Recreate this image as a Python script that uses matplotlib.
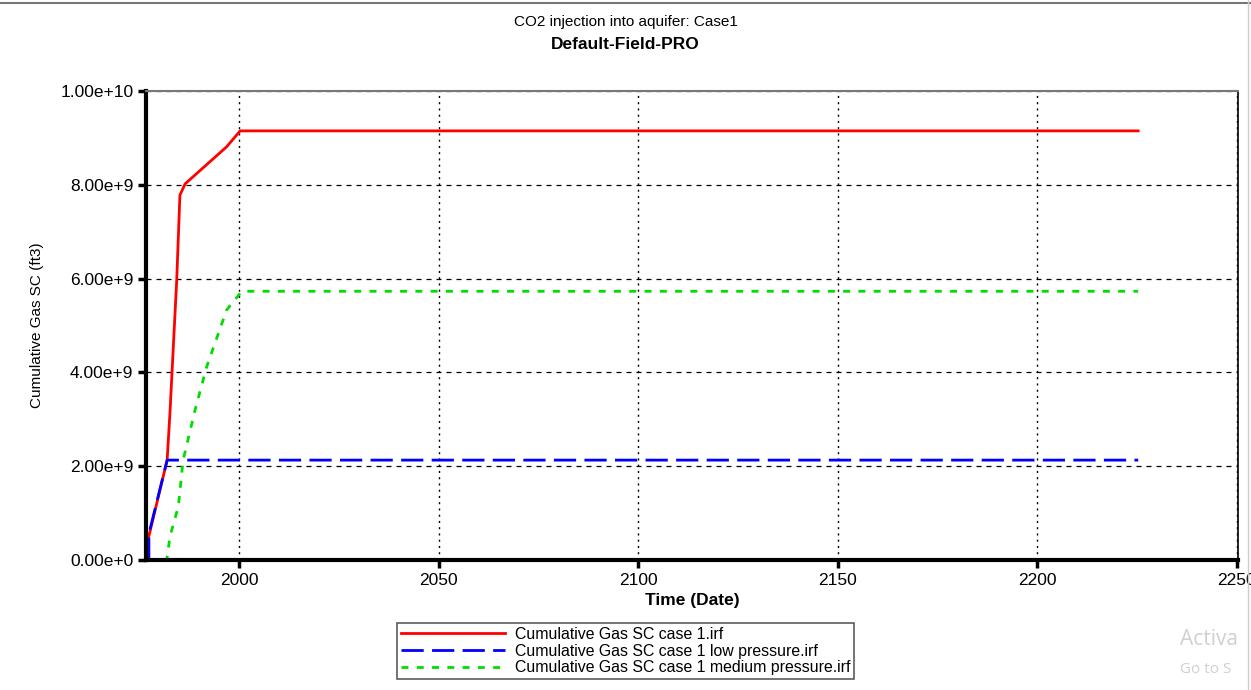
import numpy as np
import matplotlib.pyplot as plt
from matplotlib.ticker import FixedLocator, FixedFormatter

# values (year, cumulative gas in ft3)
red_years = [1977.4, 1977.4, 1982.0, 1982.7, 1984.4, 1985.2, 1986.5, 1991.5, 1996.9, 2000.3, 2225.3]
red_vals = [0.0, 0.5e9, 2.13e9, 3.13e9, 5.97e9, 7.78e9, 8.02e9, 8.40e9, 8.81e9, 9.15e9, 9.15e9]

blue_years = [1977.4, 1977.4, 1982.0, 2225.3]
blue_vals = [0.0, 0.55e9, 2.13e9, 2.13e9]

green_years = [1977.4, 1981.9, 1982.7, 1984.8, 1986.0, 1989.0, 1991.9, 1996.9, 2000.7, 2225.3]
green_vals = [0.0, 0.0, 0.5e9, 1.14e9, 2.13e9, 3.2e9, 4.12e9, 5.33e9, 5.73e9, 5.73e9]

labels = ['Cumulative Gas SC case 1.irf',
          'Cumulative Gas SC case 1 low pressure.irf',
          'Cumulative Gas SC case 1 medium pressure.irf']

x_ticks = [2000, 2050, 2100, 2150, 2200, 2250]
y_ticks = [0, 2e9, 4e9, 6e9, 8e9, 1e10]
y_tick_labels = ['0.00e+0', '2.00e+9', '4.00e+9', '6.00e+9', '8.00e+9', '1.00e+10']

sans = ['Liberation Sans', 'DejaVu Sans']

fig = plt.figure(figsize=(12.51, 6.9), dpi=100)
ax = fig.add_axes([0.1167, 0.1884, 0.8729, 0.6797])

ax.plot(red_years, red_vals, color='#ff0000', lw=2, label=labels[0])
ax.plot(blue_years, blue_vals, color='#0000ff', lw=2, dashes=(8, 3), label=labels[1])
ax.plot(green_years, green_vals, color='#00dd00', lw=2, dashes=(2.5, 3), label=labels[2])

ax.set_xlim(1976.7, 2250.3)
ax.set_ylim(0, 1e10)

ax.xaxis.set_major_locator(FixedLocator(x_ticks))
ax.yaxis.set_major_locator(FixedLocator(y_ticks))
ax.yaxis.set_major_formatter(FixedFormatter(y_tick_labels))

for t in ax.get_xticklabels() + ax.get_yticklabels():
    t.set_family(sans)
    t.set_fontsize(12.5)
ax.tick_params(direction='out', length=6, width=2.5, color='black', pad=3)

# grid: dotted verticals, dashed horizontals
ax.xaxis.grid(True, color='black', lw=1, linestyle=(0, (1.5, 3)))
ax.yaxis.grid(True, color='black', lw=0.9, linestyle=(0, (4, 4)))

ax.spines['left'].set_linewidth(3)
ax.spines['bottom'].set_linewidth(3)
ax.spines['top'].set_color('#777777')
ax.spines['top'].set_linewidth(1.5)
ax.spines['right'].set_linewidth(1.2)

ax.set_xlabel('Time (Date)', family=sans, fontsize=12.5, fontweight='bold', labelpad=4)
ax.set_ylabel('Cumulative Gas SC (ft3)', family=sans, fontsize=11, labelpad=12)

fig.text(0.5, 0.968, 'CO2 injection into aquifer: Case1', ha='center', va='center',
         family=sans, fontsize=11)
fig.text(0.5, 0.935, 'Default-Field-PRO', ha='center', va='center',
         family=sans, fontsize=12.5, fontweight='bold')

leg = fig.legend(loc='center', bbox_to_anchor=(0.5, 0.0565), ncol=1, frameon=True,
                 fancybox=False, edgecolor='#333333', handlelength=6.6, borderpad=0.25,
                 labelspacing=0.1, handletextpad=0.6, borderaxespad=0,
                 prop={'family': sans, 'size': 11.4})
leg.get_frame().set_linewidth(1.2)

# screenshot frame and watermark remnants
fig.add_artist(plt.Line2D([0, 1], [0.996, 0.996], color='#777777', lw=1.5))
fig.add_artist(plt.Line2D([0.998, 0.998], [0, 1], color='#cccccc', lw=1))
fig.text(0.943, 0.065, 'Activa', family=['Open Sans', 'DejaVu Sans'],
         fontsize=15, color='#d0d0d0')
fig.text(0.943, 0.025, 'Go to S', family=['Open Sans', 'DejaVu Sans'],
         fontsize=11, color='#d0d0d0')

fig.savefig('out.png', dpi=100)
